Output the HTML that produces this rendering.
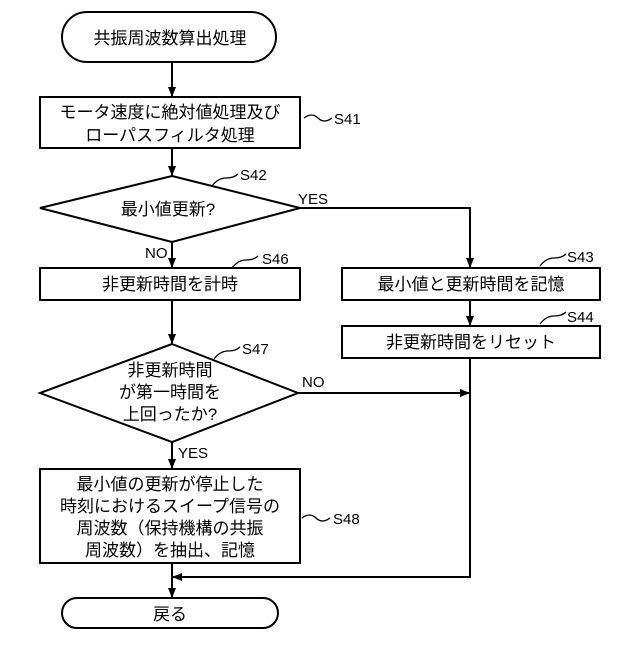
<!DOCTYPE html>
<html><head><meta charset="utf-8"><style>
body{margin:0;background:#fff}
text{font-family:"Liberation Sans","Noto Sans CJK JP",sans-serif;fill:#000}
</style></head><body>
<svg width="640" height="640" viewBox="0 0 640 640" xmlns="http://www.w3.org/2000/svg">
<defs><marker id="a" markerWidth="10" markerHeight="10" refX="9" refY="5" orient="auto" markerUnits="userSpaceOnUse"><path d="M0,1 L10,5 L0,9 Z" fill="#000"/></marker></defs>
<g stroke="#000" stroke-width="2" fill="none">
<rect x="62" y="12" width="214" height="50" rx="25"/>
<rect x="40" y="97" width="260" height="51"/>
<polygon points="172,176 300,208 172,242 40,208"/>
<rect x="40" y="268" width="260" height="32"/>
<rect x="342" y="268" width="258" height="32"/>
<rect x="342" y="326" width="258" height="32"/>
<polygon points="172,344 298,393 172,442 40,393"/>
<rect x="40" y="469" width="260" height="94"/>
<rect x="62" y="598" width="216" height="30" rx="15"/>
<line x1="172" y1="62" x2="172" y2="96" marker-end="url(#a)"/>
<line x1="172" y1="148" x2="172" y2="175" marker-end="url(#a)"/>
<line x1="172" y1="242" x2="172" y2="267" marker-end="url(#a)"/>
<line x1="172" y1="300" x2="172" y2="343" marker-end="url(#a)"/>
<line x1="172" y1="442" x2="172" y2="468" marker-end="url(#a)"/>
<line x1="172" y1="563" x2="172" y2="597" marker-end="url(#a)"/>
<polyline points="300,208 470,208 470,267" marker-end="url(#a)"/>
<line x1="470" y1="300" x2="470" y2="325" marker-end="url(#a)"/>
<line x1="298" y1="393" x2="469" y2="393" marker-end="url(#a)"/>
<polyline points="470,358 470,577 173,577" marker-end="url(#a)"/>
<path d="M304,118 q8,-6 14,0 t14,0 M212,186 q6,-8 14,-8 t12,-4 M540,266 q6,-8 14,-8 t12,-4 M540,324 q6,-8 14,-8 t12,-4 M214,359 q6,-8 14,-8 t12,-4 M232,268 q6,-8 14,-8 t12,-4 M302,518 q8,-6 14,0 t14,0" stroke-width="1.3"/>
</g>
<g font-size="17" text-anchor="middle">
<text x="170" y="44">共振周波数算出処理</text>
<text x="170" y="118">モータ速度に絶対値処理及び</text>
<text x="170" y="141">ローパスフィルタ処理</text>
<text x="168" y="215">最小値更新?</text>
<text x="170" y="290">非更新時間を計時</text>
<text x="471" y="290">最小値と更新時間を記憶</text>
<text x="471" y="348">非更新時間をリセット</text>
<text x="170" y="376">非更新時間</text>
<text x="170" y="398">が第一時間を</text>
<text x="170" y="420">上回ったか?</text>
<text x="170" y="490">最小値の更新が停止した</text>
<text x="170" y="512">時刻におけるスイープ信号の</text>
<text x="170" y="534">周波数（保持機構の共振</text>
<text x="170" y="556">周波数）を抽出、記憶</text>
<text x="170" y="620">戻る</text>
</g>
<g font-size="15">
<text x="334" y="124">S41</text>
<text x="240" y="180">S42</text>
<text x="298" y="204">YES</text>
<text x="145" y="258">NO</text>
<text x="262" y="264">S46</text>
<text x="567" y="262">S43</text>
<text x="567" y="322">S44</text>
<text x="242" y="354">S47</text>
<text x="302" y="387">NO</text>
<text x="178" y="458">YES</text>
<text x="333" y="524">S48</text>
</g>
</svg>
</body></html>
